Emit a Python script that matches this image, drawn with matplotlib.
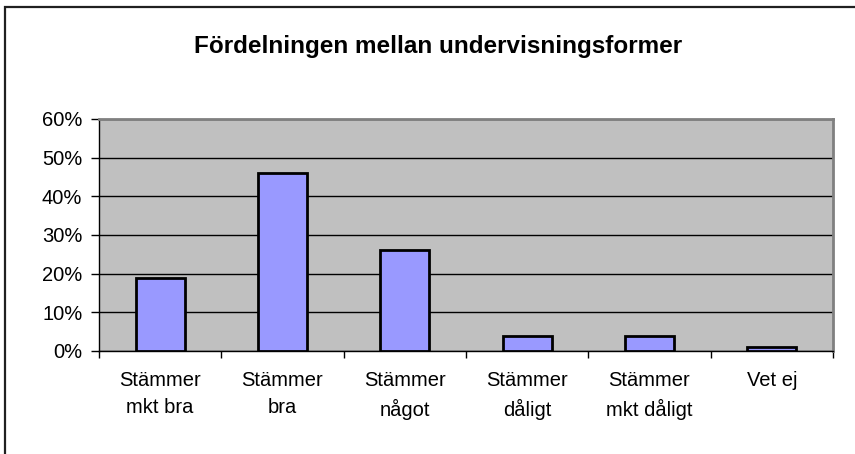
import matplotlib
matplotlib.use('Agg')
import matplotlib.pyplot as plt
from matplotlib.patches import Rectangle
import numpy as np

# data
categories = ['Stämmer\nmkt bra', 'Stämmer\nbra', 'Stämmer\nnågot',
              'Stämmer\ndåligt', 'Stämmer\nmkt dåligt', 'Vet ej']
values = [0.19, 0.46, 0.26, 0.04, 0.04, 0.01]
yticks = [0.0, 0.1, 0.2, 0.3, 0.4, 0.5, 0.6]
ytick_labels = ['0%', '10%', '20%', '30%', '40%', '50%', '60%']
title = 'Fördelningen mellan undervisningsformer'

plt.rcParams['font.family'] = ['Liberation Sans', 'DejaVu Sans']

W, H = 855, 454
fig = plt.figure(figsize=(W / 100, H / 100), dpi=100)

# outer chart border (only top/left visible in the reference)
fig.patches.append(Rectangle((5 / W, -0.1), 1.2, 1 - 7 / H + 0.1,
                             transform=fig.transFigure, fill=False,
                             edgecolor='#202020', linewidth=1.6))

# plot area
x0, x1, y0, y1 = 99, 833, 119, 351
ax = fig.add_axes([x0 / W, 1 - y1 / H, (x1 - x0) / W, (y1 - y0) / H])
ax.set_facecolor('#C0C0C0')

x = np.arange(len(categories))
ax.set_axisbelow(True)
ax.yaxis.grid(True, color='black', linewidth=1)
ax.bar(x, values, width=0.4, color='#9999FF', edgecolor='black', linewidth=2, zorder=3)

ax.set_xlim(-0.5, len(categories) - 0.5)
ax.set_ylim(0, 0.6)
ax.set_yticks(yticks)
ax.set_yticklabels(ytick_labels, fontsize=14.5)

# category labels between boundary ticks
ax.set_xticks(np.arange(len(categories) + 1) - 0.5)
ax.set_xticklabels([])
ax.tick_params(axis='x', length=5, width=1, color='black')
ax.tick_params(axis='y', length=5.5, width=1, color='black', pad=6.5)
for i, lab in enumerate(categories):
    ax.text(i, -0.053, lab, ha='center', va='top', fontsize=14.5,
            linespacing=1.5, transform=ax.transData)

for side in ['top', 'right']:
    ax.spines[side].set_color('#808080')
    ax.spines[side].set_linewidth(2)
ax.spines['left'].set_color('black')
ax.spines['bottom'].set_color('black')
ax.spines['left'].set_linewidth(1)
ax.spines['bottom'].set_linewidth(1)

fig.text(438 / W, 1 - 47 / H, title, ha='center', va='center',
         fontsize=17.5, fontweight='bold')

fig.savefig('out.png', dpi=100)
